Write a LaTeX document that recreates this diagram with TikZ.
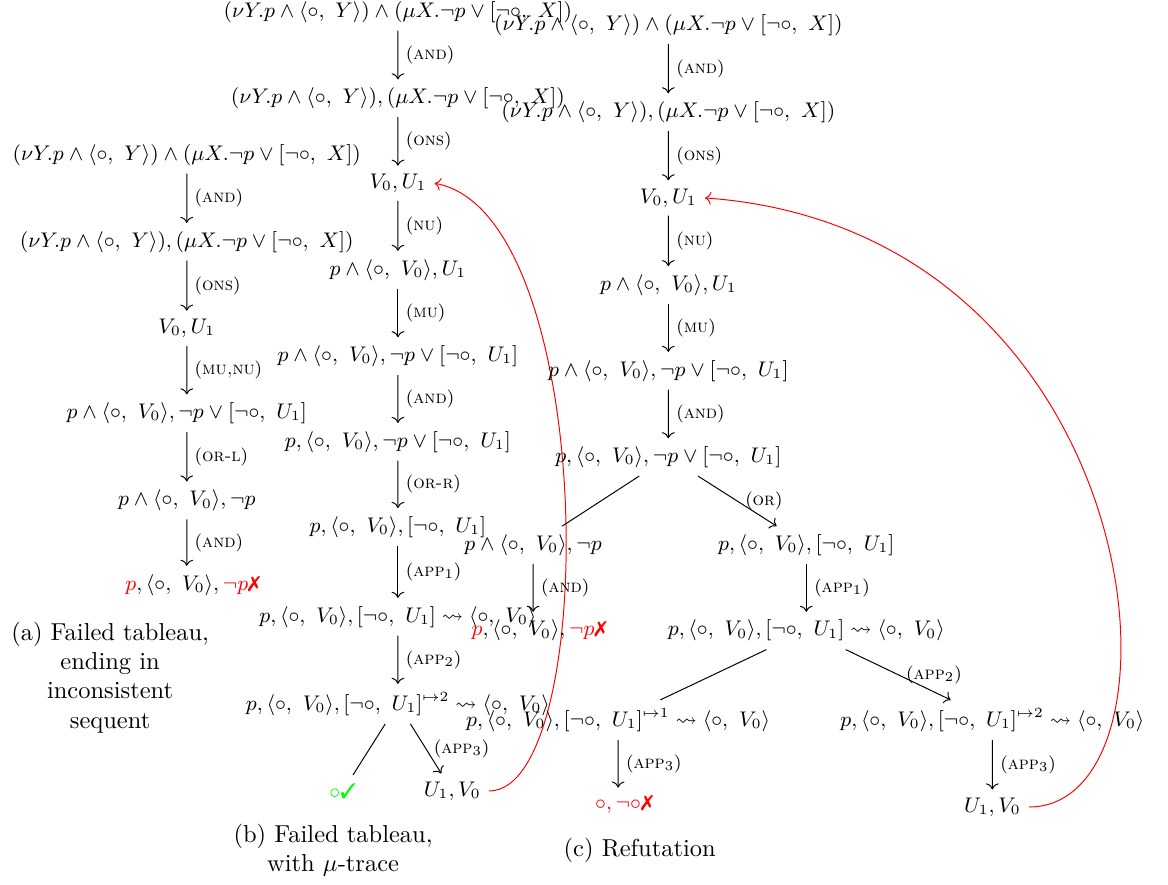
\documentclass[tikz,border=0pt]{standalone}
\usepackage{amsmath,amssymb}
\usepackage{pifont}
\usepackage{tikz}
\usetikzlibrary{arrows.meta}

\newcommand{\tdia}[2]{\langle #1,\ #2\rangle}
\newcommand{\tbox}[2]{[#1,\ #2]}
\newcommand{\rn}[1]{(\textsc{#1})}
\newcommand{\xfail}{\textcolor{red}{\ding{55}}}

\begin{document}
\begin{tikzpicture}[
  every node/.style={font=\small,scale=0.96},
  tstep/.style={->},
  rlab/.style={midway,right,font=\footnotesize,scale=0.96},
  trace/.style={->,red},
  capt/.style={align=center,font=\normalsize,scale=1.0417}]
  \useasboundingbox (0,0) rectangle (16.76,-12.69);

  % (a) failed tableau
  \node (a1) at (2.68,-2.22) {$(\nu Y.p \wedge \tdia{\circ}{Y}) \wedge (\mu X.\neg p \vee \tbox{\neg\circ}{X})$};
  \node (a2) at (2.68,-3.47) {$(\nu Y.p \wedge \tdia{\circ}{Y}), (\mu X.\neg p \vee \tbox{\neg\circ}{X})$};
  \node (a3) at (2.68,-4.71) {$V_0, U_1$};
  \node (a4) at (2.68,-5.93) {$p \wedge \tdia{\circ}{V_0}, \neg p \vee \tbox{\neg\circ}{U_1}$};
  \node (a5) at (2.68,-7.18) {$p \wedge \tdia{\circ}{V_0}, \neg p$};
  \node (a6) at (2.68,-8.39) {$\textcolor{red}{p}, \tdia{\circ}{V_0}, \textcolor{red}{\neg p}$\rlap{\xfail}};
  \draw[tstep] (a1) -- node[rlab] {\rn{and}} (a2);
  \draw[tstep] (a2) -- node[rlab] {\rn{ons}} (a3);
  \draw[tstep] (a3) -- node[rlab] {\rn{mu,nu}} (a4);
  \draw[tstep] (a4) -- node[rlab] {\rn{or-l}} (a5);
  \draw[tstep] (a5) -- node[rlab] {\rn{and}} (a6);
  \node[capt] (capa) at (1.58,-9.72) {(a) Failed tableau,\\ ending in\\ inconsistent\\ sequent};

  % (b) failed tableau with mu-trace
  \node (b1) at (5.71,-0.17) {$(\nu Y.p \wedge \tdia{\circ}{Y}) \wedge (\mu X.\neg p \vee \tbox{\neg\circ}{X})$};
  \node (b2) at (5.71,-1.41) {$(\nu Y.p \wedge \tdia{\circ}{Y}), (\mu X.\neg p \vee \tbox{\neg\circ}{X})$};
  \node (b3) at (5.71,-2.63) {$V_0, U_1$};
  \node (b4) at (5.71,-3.87) {$p \wedge \tdia{\circ}{V_0}, U_1$};
  \node (b5) at (5.71,-5.11) {$p \wedge \tdia{\circ}{V_0}, \neg p \vee \tbox{\neg\circ}{U_1}$};
  \node (b6) at (5.71,-6.34) {$p, \tdia{\circ}{V_0}, \neg p \vee \tbox{\neg\circ}{U_1}$};
  \node (b7) at (5.71,-7.56) {$p, \tdia{\circ}{V_0}, \tbox{\neg\circ}{U_1}$};
  \node (b8) at (5.71,-8.85) {$p, \tdia{\circ}{V_0}, \tbox{\neg\circ}{U_1} \leadsto \tdia{\circ}{V_0}$};
  \node (b9) at (5.71,-10.10) {$p, \tdia{\circ}{V_0}, \tbox{\neg\circ}{U_1}^{\mapsto 2} \leadsto \tdia{\circ}{V_0}$};
  \node (b10l) at (4.92,-11.35) {\color{green}$\circ$\ding{51}};
  \node (b10r) at (6.49,-11.35) {$U_1, V_0$};
  \draw[tstep] (b1) -- node[rlab] {\rn{and}} (b2);
  \draw[tstep] (b2) -- node[rlab] {\rn{ons}} (b3);
  \draw[tstep] (b3) -- node[rlab] {\rn{nu}} (b4);
  \draw[tstep] (b4) -- node[rlab] {\rn{mu}} (b5);
  \draw[tstep] (b5) -- node[rlab] {\rn{and}} (b6);
  \draw[tstep] (b6) -- node[rlab] {\rn{or-r}} (b7);
  \draw[tstep] (b7) -- node[rlab] {\rn{app$_1$}} (b8);
  \draw[tstep] (b8) -- node[rlab] {\rn{app$_2$}} (b9);
  \draw (b9) -- (b10l);
  \draw[tstep] (b9) -- node[rlab] {\rn{app$_3$}} (b10r);
  \draw[trace] (b10r.east) .. controls +(1.6,0) and +(2.35,-0.42) .. (b3.east);
  \node[capt] (capb) at (4.78,-12.20) {(b) Failed tableau,\\ with $\mu$-trace};

  % (c) refutation
  \node (c1) at (9.59,-0.36) {$(\nu Y.p \wedge \tdia{\circ}{Y}) \wedge (\mu X.\neg p \vee \tbox{\neg\circ}{X})$};
  \node (c2) at (9.59,-1.61) {$(\nu Y.p \wedge \tdia{\circ}{Y}), (\mu X.\neg p \vee \tbox{\neg\circ}{X})$};
  \node (c3) at (9.59,-2.84) {$V_0, U_1$};
  \node (c4) at (9.59,-4.09) {$p \wedge \tdia{\circ}{V_0}, U_1$};
  \node (c5) at (9.59,-5.32) {$p \wedge \tdia{\circ}{V_0}, \neg p \vee \tbox{\neg\circ}{U_1}$};
  \node (c6) at (9.59,-6.56) {$p, \tdia{\circ}{V_0}, \neg p \vee \tbox{\neg\circ}{U_1}$};
  \node (c7l) at (7.65,-7.82) {$p \wedge \tdia{\circ}{V_0}, \neg p$};
  \node (c8l) at (7.65,-9.05) {$\textcolor{red}{p}, \tdia{\circ}{V_0}, \textcolor{red}{\neg p}$\rlap{\xfail}};
  \node (c7r) at (11.57,-7.82) {$p, \tdia{\circ}{V_0}, \tbox{\neg\circ}{U_1}$};
  \node (c8r) at (11.57,-9.05) {$p, \tdia{\circ}{V_0}, \tbox{\neg\circ}{U_1} \leadsto \tdia{\circ}{V_0}$};
  \node (c9l) at (8.87,-10.33) {$p, \tdia{\circ}{V_0}, \tbox{\neg\circ}{U_1}^{\mapsto 1} \leadsto \tdia{\circ}{V_0}$};
  \node (c9r) at (14.24,-10.33) {$p, \tdia{\circ}{V_0}, \tbox{\neg\circ}{U_1}^{\mapsto 2} \leadsto \tdia{\circ}{V_0}$};
  \node (c10l) at (8.87,-11.55) {\color{red}$\circ, \neg\circ$\rlap{\ding{55}}};
  \node (c10r) at (14.24,-11.58) {$U_1, V_0$};
  \draw[tstep] (c1) -- node[rlab] {\rn{and}} (c2);
  \draw[tstep] (c2) -- node[rlab] {\rn{ons}} (c3);
  \draw[tstep] (c3) -- node[rlab] {\rn{nu}} (c4);
  \draw[tstep] (c4) -- node[rlab] {\rn{mu}} (c5);
  \draw[tstep] (c5) -- node[rlab] {\rn{and}} (c6);
  \draw (c6) -- (c7l);
  \draw[tstep] (c6) -- node[rlab] {\rn{or}} (c7r);
  \draw[tstep] (c7l) -- node[rlab] {\rn{and}} (c8l);
  \draw[tstep] (c7r) -- node[rlab] {\rn{app$_1$}} (c8r);
  \draw (c8r) -- (c9l);
  \draw[tstep] (c8r) -- node[rlab] {\rn{app$_2$}} (c9r);
  \draw[tstep] (c9l) -- node[rlab] {\rn{app$_3$}} (c10l);
  \draw[tstep] (c9r) -- node[rlab] {\rn{app$_3$}} (c10r);
  \draw[trace] (c10r.east) .. controls +(2.45,0) and +(6.45,-0.46) .. (c3.east);
  \node[capt] (capc) at (9.18,-12.20) {(c) Refutation};
\end{tikzpicture}
\end{document}
